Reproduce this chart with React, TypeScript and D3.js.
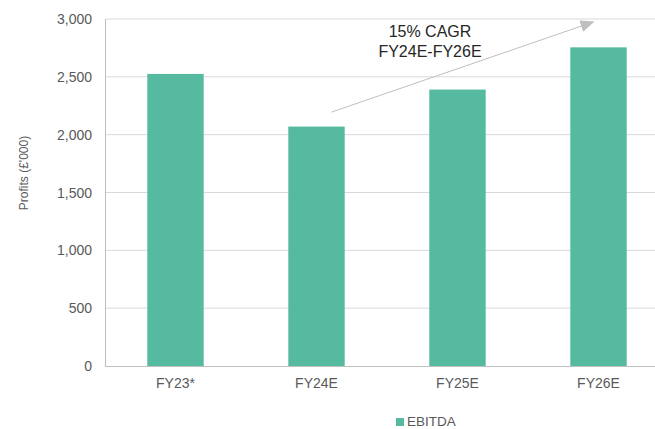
import { scaleBand, scaleLinear, format } from 'd3'

const width = 655
const height = 429

const categories = ['FY23*', 'FY24E', 'FY25E', 'FY26E']
const ebitda = [2525, 2070, 2390, 2755]
const yTicks = [0, 500, 1000, 1500, 2000, 2500, 3000]
const seriesName = 'EBITDA'
const annotationLines = ['15% CAGR', 'FY24E-FY26E']
// arrow runs from/to these (category, value) points
const arrowFrom: [string, number] = ['FY24E', 2195]
const arrowTo: [string, number] = ['FY26E', 2975]

const barColor = '#55BA9F'
const font = '"Liberation Sans", Arial, sans-serif'

export default function App() {
  const xScale = scaleBand<string>()
    .domain(categories)
    .range([105, 669])
    .paddingInner(0.6)
    .paddingOuter(0.3)

  const yScale = scaleLinear().domain([0, 3000]).range([366, 19])
  const tickFormat = format(',')

  const cx = (c: string) => (xScale(c) ?? 0) + xScale.bandwidth() / 2

  const ax1 = cx(arrowFrom[0]) + 15
  const ay1 = yScale(arrowFrom[1])
  const ax2 = cx(arrowTo[0]) - 5
  const ay2 = yScale(arrowTo[1])

  return (
    <svg
      width={width}
      height={height}
      style={{ position: 'absolute', left: 0, top: 0, background: '#fff' }}
      fontFamily={font}
    >
      <defs>
        <marker
          id="arrowhead"
          markerUnits="userSpaceOnUse"
          markerWidth={14}
          markerHeight={12}
          refX={13}
          refY={6}
          orient="auto"
        >
          <path d="M0,0 L14,6 L0,12 Z" fill="#BFBFBF" />
        </marker>
      </defs>

      {yTicks.map((t) => (
        <g key={t}>
          {t > 0 && (
            <line x1={106} x2={width} y1={yScale(t)} y2={yScale(t)} stroke="#D9D9D9" />
          )}
          <text
            x={92}
            y={yScale(t)}
            dy="0.36em"
            textAnchor="end"
            fontSize={14}
            fill="#595959"
          >
            {tickFormat(t)}
          </text>
        </g>
      ))}

      {categories.map((c, i) => (
        <rect
          key={c}
          x={xScale(c)}
          y={yScale(ebitda[i])}
          width={xScale.bandwidth()}
          height={yScale(0) - yScale(ebitda[i])}
          fill={barColor}
        />
      ))}

      <line x1={105.5} x2={105.5} y1={yScale(3000)} y2={yScale(0)} stroke="#BFBFBF" />
      <line x1={105} x2={width} y1={yScale(0) + 0.5} y2={yScale(0) + 0.5} stroke="#BFBFBF" />

      {categories.map((c) => (
        <text key={c} x={cx(c)} y={388} textAnchor="middle" fontSize={14} fill="#595959">
          {c}
        </text>
      ))}

      <text
        transform="translate(28, 173) rotate(-90)"
        textAnchor="middle"
        fontSize={12}
        fill="#595959"
      >
        Profits (£'000)
      </text>

      <line
        x1={ax1}
        y1={ay1}
        x2={ax2}
        y2={ay2}
        stroke="#BFBFBF"
        strokeWidth={1}
        markerEnd="url(#arrowhead)"
      />
      {annotationLines.map((l, i) => (
        <text key={l} x={430} y={37 + i * 19.5} textAnchor="middle" fontSize={16} fill="#262626">
          {l}
        </text>
      ))}

      <rect x={396} y={418} width={8} height={8} fill={barColor} />
      <text x={407} y={421.5} dy="0.36em" fontSize={13.5} fill="#595959">
        {seriesName}
      </text>
    </svg>
  )
}
